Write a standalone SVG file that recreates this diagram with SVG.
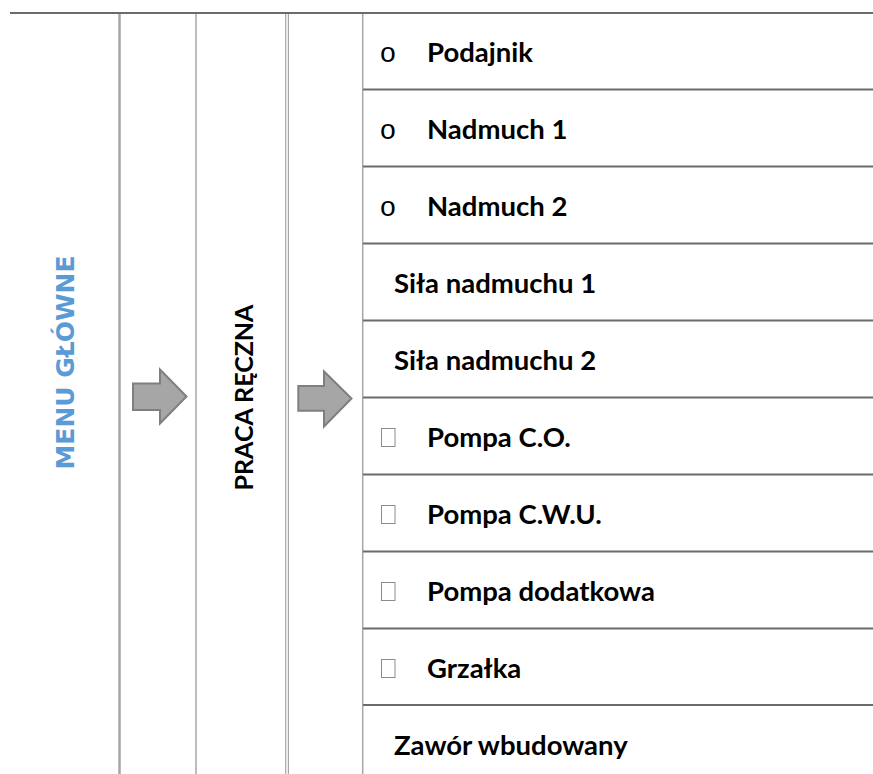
<svg xmlns="http://www.w3.org/2000/svg" width="873" height="774" viewBox="0 0 873 774">
<style>
.bg{fill:#ffffff}
.hl{stroke:#6b6b6b;stroke-width:2;fill:none}
.vl{stroke:#a6a6a6;fill:none}
.item{font-family:Lato,"Open Sans","Liberation Sans",sans-serif;font-weight:700;font-size:27.5px;fill:#000}
.bul{font-family:"Liberation Mono","DejaVu Sans Mono",monospace;font-size:28px;fill:#000}
.box{fill:#fff;stroke:#8c8c8c;stroke-width:1}
.arrow{fill:#a6a6a6;stroke:#7f7f7f;stroke-width:2;stroke-linejoin:miter}
.menu{font-family:"DejaVu Sans",sans-serif;font-weight:bold;font-size:24px;fill:#5b9bd5}
.praca{font-family:Lato,"Open Sans","Liberation Sans",sans-serif;font-weight:700;font-size:25px;fill:#000}
</style>
<rect class="bg" x="0" y="0" width="873" height="774"/>
<g id="grid">
<line class="hl" x1="10" y1="13" x2="873" y2="13"/>
<line class="vl" x1="119.5" y1="14" x2="119.5" y2="774" stroke-width="2.5"/>
<line class="vl" x1="196" y1="14" x2="196" y2="774" stroke-width="1.5"/>
<line class="vl" x1="285.7" y1="14" x2="285.7" y2="774" stroke-width="1.2"/>
<line class="vl" x1="288.4" y1="14" x2="288.4" y2="774" stroke-width="1.2"/>
<line class="vl" x1="362.7" y1="14" x2="362.7" y2="774" stroke-width="1.5"/>
<line class="hl" x1="363" y1="89.5" x2="873" y2="89.5"/>
<line class="hl" x1="363" y1="166.5" x2="873" y2="166.5"/>
<line class="hl" x1="363" y1="243.5" x2="873" y2="243.5"/>
<line class="hl" x1="363" y1="320.5" x2="873" y2="320.5"/>
<line class="hl" x1="363" y1="397.5" x2="873" y2="397.5"/>
<line class="hl" x1="363" y1="474.5" x2="873" y2="474.5"/>
<line class="hl" x1="363" y1="551.5" x2="873" y2="551.5"/>
<line class="hl" x1="363" y1="628.5" x2="873" y2="628.5"/>
<line class="hl" x1="363" y1="705" x2="873" y2="705"/>
</g>
<g id="menu-glowne">
<text class="menu" transform="translate(74,362.5) rotate(-90) scale(1.04,1)" x="0" y="0" text-anchor="middle">MENU GŁÓWNE</text>
</g>
<g id="praca-reczna">
<text class="praca" transform="translate(252.5,397.5) rotate(-90)" x="0" y="0" text-anchor="middle">PRACA RĘCZNA</text>
</g>
<g id="connectors">
<polygon class="arrow" points="133,383.5 160,383.5 160,369.5 186.5,396.5 160,423.5 160,410 133,410"/>
<polygon class="arrow" points="298.3,386 324,386 324,371.5 351.5,398.5 324,426.5 324,410.7 298.3,410.7"/>
</g>
<g id="item-podajnik">
<text class="bul" x="379.5" y="61.5">o</text>
<text class="item" x="427" y="61.5">Podajnik</text>
</g>
<g id="item-nadmuch1">
<text class="bul" x="379.5" y="139">o</text>
<text class="item" x="427" y="139">Nadmuch 1</text>
</g>
<g id="item-nadmuch2">
<text class="bul" x="379.5" y="215.7">o</text>
<text class="item" x="427" y="215.7">Nadmuch 2</text>
</g>
<g id="item-sila1">
<text class="item" x="394" y="292.5">Siła nadmuchu 1</text>
</g>
<g id="item-sila2">
<text class="item" x="394" y="369.5">Siła nadmuchu 2</text>
</g>
<g id="item-pompa-co">
<rect class="box" x="381.5" y="428.5" width="13.5" height="18"/>
<text class="item" x="427" y="446.7">Pompa C.O.</text>
</g>
<g id="item-pompa-cwu">
<rect class="box" x="381.5" y="505.5" width="13.5" height="18"/>
<text class="item" x="427" y="523.5">Pompa C.W.U.</text>
</g>
<g id="item-pompa-dodatkowa">
<rect class="box" x="381.5" y="582.5" width="13.5" height="18"/>
<text class="item" x="427" y="600.5">Pompa dodatkowa</text>
</g>
<g id="item-grzalka">
<rect class="box" x="381.5" y="659.5" width="13.5" height="18"/>
<text class="item" x="427" y="677.5">Grzałka</text>
</g>
<g id="item-zawor">
<text class="item" x="394" y="754.5">Zawór wbudowany</text>
</g>
</svg>
